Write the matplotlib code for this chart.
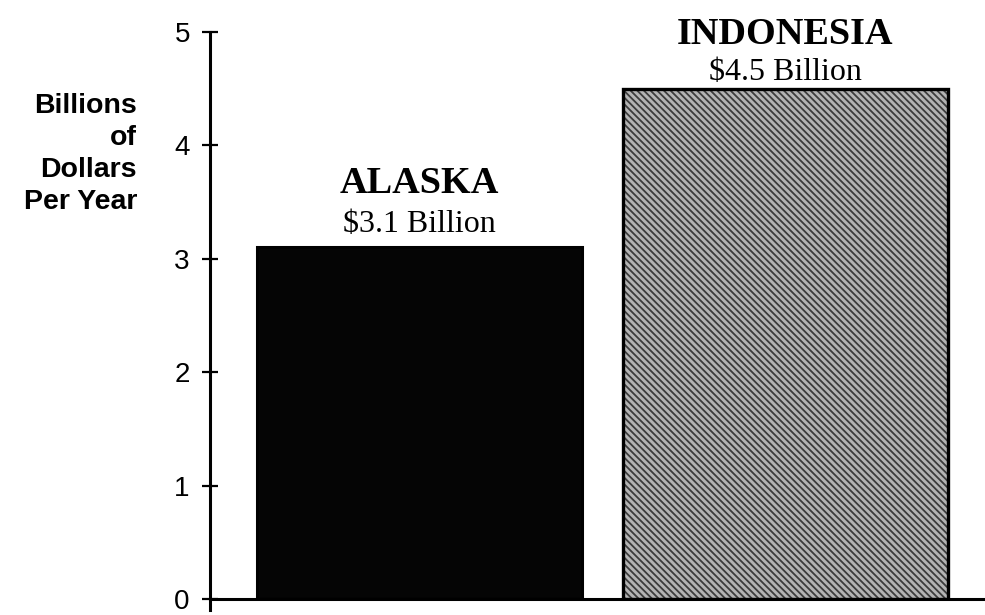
"""Bar chart: annual value, Alaska vs Indonesia (billions of dollars per year)."""

import matplotlib.pyplot as plt

regions = ["ALASKA", "INDONESIA"]
values = [3.1, 4.5]
value_labels = ["$3.1 Billion", "$4.5 Billion"]
y_ticks = [0, 1, 2, 3, 4, 5]


def main() -> None:
    plt.rcParams["hatch.linewidth"] = 1.3

    fig = plt.figure(figsize=(9.85, 6.15), dpi=100)
    ax = fig.add_axes([210 / 985, 16 / 615, 775 / 985, (599 - 32) / 615])

    xs = list(range(len(regions)))
    width = 0.889
    # Alaska: solid black; Indonesia: grey screen (hatch) with a black outline
    ax.bar(xs[0], values[0], width=width, color="#050505", edgecolor="black", linewidth=2.2)
    ax.bar(xs[1], values[1], width=width, color="#b4b4b4", edgecolor="#3c3c3c",
           linewidth=0, hatch="\\\\\\\\\\")
    ax.bar(xs[1], values[1], width=width, facecolor="none", edgecolor="black", linewidth=2.4)

    ax.set_xlim(-0.573, 1.547)
    ax.set_ylim(0, 5)
    ax.set_yticks(y_ticks)
    ax.set_xticks([])
    ax.tick_params(axis="y", direction="inout", length=11, width=1.6, pad=9,
                   labelsize=20)
    for lab in ax.get_yticklabels():
        lab.set_fontfamily("Liberation Sans")

    for side in ("top", "right"):
        ax.spines[side].set_visible(False)
    ax.spines["left"].set_linewidth(2.2)
    ax.spines["bottom"].set_linewidth(2.2)
    ax.spines["left"].set_bounds(-0.1, 5)

    # title offsets (points above bar top) differ a bit per bar, as in the scan
    offsets = [(11, 39), (6.5, 32)]
    for x, v, name, vlab, (o_sub, o_title) in zip(xs, values, regions, value_labels, offsets):
        ax.annotate(vlab, (x, v), xytext=(0, o_sub), textcoords="offset points",
                    ha="center", va="baseline", fontsize=23,
                    fontfamily="Liberation Serif")
        ax.annotate(name, (x, v), xytext=(0, o_title), textcoords="offset points",
                    ha="center", va="baseline", fontsize=27.5, fontweight="bold",
                    fontfamily="Liberation Serif")

    fig.text(137 / 985, 1 - 93 / 615, "Billions\nof\nDollars\nPer Year",
             ha="right", va="top", multialignment="right", fontsize=20.5,
             fontweight="bold", fontfamily="Liberation Sans", linespacing=1.3)

    fig.savefig("out.png", dpi=100)
    plt.close(fig)


if __name__ == "__main__":
    main()
